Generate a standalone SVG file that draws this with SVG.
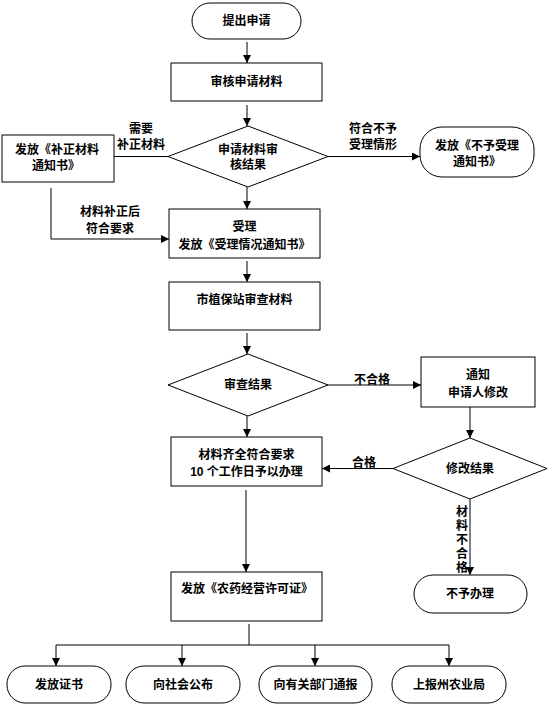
<svg xmlns="http://www.w3.org/2000/svg" width="548" height="726" viewBox="0 0 548 726">
<style>
.n{fill:#fff;stroke:#000;stroke-width:1}
.t{font-family:"Liberation Sans","Noto Sans CJK SC",sans-serif;font-size:12px;font-weight:bold;fill:#000;text-anchor:middle;dominant-baseline:central}
.c{fill:none;stroke:#000;stroke-width:1}
.v{font-family:"Liberation Sans","Noto Sans CJK SC",sans-serif;font-size:12px;font-weight:bold;fill:#000;text-anchor:middle;dominant-baseline:central}
</style>
<defs>
<marker id="a" markerWidth="8" markerHeight="8" refX="8" refY="4" orient="auto" markerUnits="userSpaceOnUse">
<path d="M0,0 L8,4 L0,8 z" fill="#000"/>
</marker>
</defs>
<rect width="548" height="726" fill="#fff"/>
<g id="connectors">
<path class="c" d="M247,42 V63" marker-end="url(#a)"/>
<path class="c" d="M247,105 V126" marker-end="url(#a)"/>
<path class="c" d="M168,156.5 H114"/>
<path class="c" d="M328,156.5 H420" marker-end="url(#a)"/>
<path class="c" d="M51,188 V239 H169" marker-end="url(#a)"/>
<path class="c" d="M247,187 V209" marker-end="url(#a)"/>
<path class="c" d="M247,261 V282" marker-end="url(#a)"/>
<path class="c" d="M247,333 V354" marker-end="url(#a)"/>
<path class="c" d="M328,385 H421" marker-end="url(#a)"/>
<path class="c" d="M470,407 V438" marker-end="url(#a)"/>
<path class="c" d="M393,468.5 H322" marker-end="url(#a)"/>
<path class="c" d="M247,416 V437" marker-end="url(#a)"/>
<path class="c" d="M246,490 V572" marker-end="url(#a)"/>
<path class="c" d="M470,499 V575" marker-end="url(#a)"/>
<path class="c" d="M249,624 V645 M56,645 H449"/>
<path class="c" d="M56,645 V666" marker-end="url(#a)"/>
<path class="c" d="M182,645 V666" marker-end="url(#a)"/>
<path class="c" d="M315,645 V666" marker-end="url(#a)"/>
<path class="c" d="M449,645 V666" marker-end="url(#a)"/>
<text class="t" x="141" y="129">需要</text>
<text class="t" x="141" y="145">补正材料</text>
<text class="t" x="373" y="129">符合不予</text>
<text class="t" x="373" y="145">受理情形</text>
<text class="t" x="110" y="212">材料补正后</text>
<text class="t" x="110" y="229">符合要求</text>
<text class="t" x="372" y="380">不合格</text>
<text class="t" x="364" y="463">合格</text>
<text class="v" x="462" y="512">材</text>
<text class="v" x="462" y="526">料</text>
<text class="v" x="462" y="540">不</text>
<text class="v" x="462" y="554">合</text>
<text class="v" x="462" y="568">格</text>
</g>
<g id="start">
<rect class="n" x="192" y="3" width="109" height="36" rx="18"/>
<text class="t" x="246.5" y="21">提出申请</text>
</g>
<g id="review">
<rect class="n" x="171" y="63" width="151" height="38"/>
<text class="t" x="246.5" y="82">审核申请材料</text>
</g>
<g id="decision1">
<polygon class="n" points="248,126 328,156.5 248,187 168,156.5"/>
<text class="t" x="248" y="150">申请材料审</text>
<text class="t" x="248" y="165">核结果</text>
</g>
<g id="supplement">
<rect class="n" x="2" y="135" width="112" height="47"/>
<text class="t" x="57" y="150">发放《补正材料</text>
<text class="t" x="56" y="166">通知书》</text>
</g>
<g id="reject1">
<rect class="n" x="420" y="127" width="114" height="50" rx="22"/>
<text class="t" x="477" y="146">发放《不予受理</text>
<text class="t" x="477" y="162">通知书》</text>
</g>
<g id="accept">
<rect class="n" x="169" y="209" width="151" height="49"/>
<text class="t" x="244.5" y="227">受理</text>
<text class="t" x="244.5" y="245">发放《受理情况通知书》</text>
</g>
<g id="station">
<rect class="n" x="169" y="282" width="151" height="48"/>
<text class="t" x="244.5" y="300">市植保站审查材料</text>
</g>
<g id="decision2">
<polygon class="n" points="248,354 328,385 248,416 168,385"/>
<text class="t" x="248" y="385">审查结果</text>
</g>
<g id="notify">
<rect class="n" x="421" y="357" width="114" height="50"/>
<text class="t" x="478" y="375">通知</text>
<text class="t" x="478" y="393">申请人修改</text>
</g>
<g id="decision3">
<polygon class="n" points="470,438 547,468.5 470,499 393,468.5"/>
<text class="t" x="470" y="468.5">修改结果</text>
</g>
<g id="complete">
<rect class="n" x="171" y="437" width="151" height="49"/>
<text class="t" x="246.5" y="455">材料齐全符合要求</text>
<text class="t" x="246.5" y="472">10 个工作日予以办理</text>
</g>
<g id="license">
<rect class="n" x="171" y="572" width="151" height="49"/>
<text class="t" x="247" y="589">发放《农药经营许可证》</text>
</g>
<g id="reject2">
<rect class="n" x="414" y="575" width="113" height="38" rx="19"/>
<text class="t" x="470" y="594">不予办理</text>
</g>
<g id="out1">
<rect class="n" x="7" y="666" width="104" height="37" rx="18"/>
<text class="t" x="59" y="685">发放证书</text>
</g>
<g id="out2">
<rect class="n" x="126" y="666" width="114" height="37" rx="18"/>
<text class="t" x="183" y="685">向社会公布</text>
</g>
<g id="out3">
<rect class="n" x="259" y="666" width="113" height="37" rx="18"/>
<text class="t" x="315.5" y="685">向有关部门通报</text>
</g>
<g id="out4">
<rect class="n" x="392" y="666" width="114" height="37" rx="18"/>
<text class="t" x="449" y="685">上报州农业局</text>
</g>
</svg>
